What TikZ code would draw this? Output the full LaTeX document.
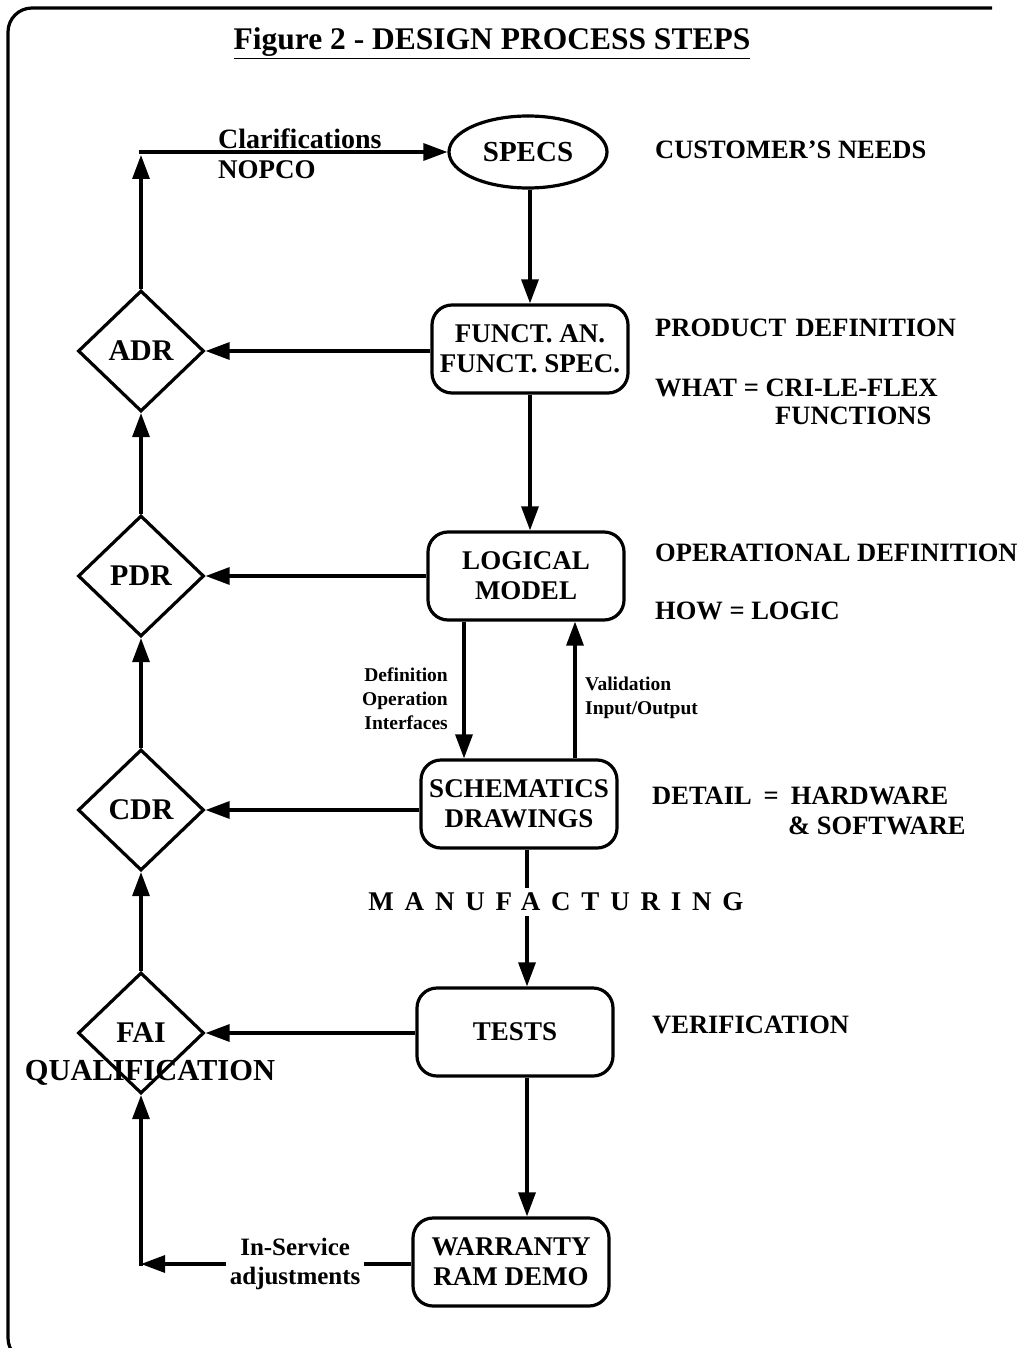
\documentclass[tikz,border=0pt]{standalone}
\usepackage{fontspec}
\setmainfont{Liberation Serif}
\usetikzlibrary{shapes.geometric,arrows.meta,calc}
\begin{document}
\begin{tikzpicture}[x=1pt,y=-1pt,
  box/.style={draw, line width=3.2pt, rounded corners=20pt, minimum width=196pt, minimum height=88pt, align=center, font=\bfseries\fontsize{27}{30}\selectfont, inner sep=0pt},
  dia/.style={draw, diamond, line width=3.2pt, minimum width=126pt, minimum height=121pt, inner sep=0pt, font=\bfseries\fontsize{30}{30}\selectfont},
  lab/.style={anchor=west, font=\bfseries\fontsize{26.5}{30}\selectfont, inner sep=0pt},
  conn/.style={line width=3.2pt, -{Triangle[length=24pt,width=17pt]}},
  plain/.style={line width=3.2pt},
  small/.style={font=\bfseries\fontsize{19.5}{24}\selectfont, inner sep=0pt}
]
\useasboundingbox (0,0) rectangle (1021,1348);
% frame
\draw[line width=3.2pt, rounded corners=24pt] (80,1362) -- (8,1362) -- (8,8) -- (992,8);

% title
\node[font=\bfseries\fontsize{31.5}{34}\selectfont] (title) at (492,43) {\underline{Figure 2 - DESIGN PROCESS STEPS}};

% main column
\node[draw, ellipse, line width=3.2pt, minimum width=158pt, minimum height=72pt, inner sep=0pt, font=\bfseries\fontsize{29}{30}\selectfont] (specs) at (528,152) {SPECS};
\node[box] (funct) at (530,349) {FUNCT. AN.\\FUNCT. SPEC.};
\node[box] (logic) at (526,576) {LOGICAL\\MODEL};
\node[box] (schem) at (519,804) {SCHEMATICS\\DRAWINGS};
\node[box] (tests) at (515,1032) {TESTS};
\node[box] (warr) at (511,1262) {WARRANTY\\RAM DEMO};

% review diamonds
\node[dia] (adr) at (141,351) {ADR};
\node[dia] (pdr) at (141,576) {PDR};
\node[dia] (cdr) at (141,810) {CDR};
\node[dia] (fai) at (141,1033) {\raisebox{-6pt}{FAI}};
\node[font=\bfseries\fontsize{30.5}{30}\selectfont, inner sep=0pt] (qual) at (150,1073) {QUALIFICATION};

% right labels
\node[lab] (cust) at (655,150) {CUSTOMER'S NEEDS};
\node[lab] (prod) at (655,328) {PRODUCT\hspace{0.35em}DEFINITION};
\node[lab] (what) at (655,388) {WHAT = CRI-LE-FLEX};
\node[lab] (func) at (775,416) {FUNCTIONS};
\node[lab] (oper) at (655,553) {OPERATIONAL DEFINITION};
\node[lab] (how) at (655,611) {HOW = LOGIC};
\node[lab] (det) at (652,796) {DETAIL\hspace{0.2em} = \hspace{0.2em}HARDWARE};
\node[lab] (soft) at (788,826) {\& SOFTWARE};
\node[lab] (ver) at (652,1025) {VERIFICATION};

% manufacturing
\node[font=\bfseries\fontsize{27}{30}\selectfont\addfontfeatures{LetterSpace=40}, inner sep=5pt] (mfg) at (556,902) {MANUFACTURING};

% small labels
\node[small, anchor=east, align=right] (deflab) at (448,699) {Definition\\Operation\\Interfaces};
\node[small, anchor=west, align=left] (vallab) at (585,698) {Validation\\Input/Output};

% top loop
\coordinate (c1) at (141,152);
\draw[conn, shorten >=3pt] (adr.north) -- (c1);
\draw[conn] ([xshift=-1.6pt]c1) -- (specs.west);
\node[font=\bfseries\fontsize{28}{30}\selectfont, anchor=base west, inner sep=0pt] (clar) at (218,149) {Clarifications};
\node[font=\bfseries\fontsize{27}{30}\selectfont, anchor=west, inner sep=0pt] (nopco) at (218,170) {NOPCO};

% vertical flow
\draw[conn] (specs.south -| funct.north) -- (funct.north);
\draw[conn] (funct.south) -- (funct.south |- logic.north);
\draw[conn] ([xshift=-62pt]logic.south) -- ([xshift=-62pt]logic.south |- schem.north);
\draw[conn] ([xshift=56pt]schem.north) -- ([xshift=56pt]schem.north |- logic.south);
\draw[plain] ([xshift=8pt]schem.south) -- ([xshift=8pt]schem.south |- mfg.north);
\draw[conn] ([xshift=8pt]schem.south |- mfg.south) -- ([xshift=8pt]schem.south |- tests.north);
\draw[conn] ([xshift=12pt]tests.south) -- ([xshift=12pt]tests.south |- warr.north);

% to reviews
\draw[conn] (funct.west |- adr.east) -- (adr.east);
\draw[conn] (logic.west |- pdr.east) -- (pdr.east);
\draw[conn] (schem.west |- cdr.east) -- (cdr.east);
\draw[conn] (tests.west |- fai.east) -- (fai.east);

% review chain
\draw[conn] (pdr.north) -- (adr.south);
\draw[conn] (cdr.north) -- (pdr.south);
\draw[conn] (fai.north) -- (cdr.south);

% bottom loop
\coordinate (c2) at (141,1264);
\draw[conn] (warr.west |- c2) -- node[pos=0.43, fill=white, inner sep=4pt, align=center, font=\bfseries\fontsize{25}{29}\selectfont] (insvc) {In-Service\\adjustments} (c2);
\draw[conn] ([yshift=-1.6pt]c2) -- (fai.south);
\end{tikzpicture}
\end{document}
